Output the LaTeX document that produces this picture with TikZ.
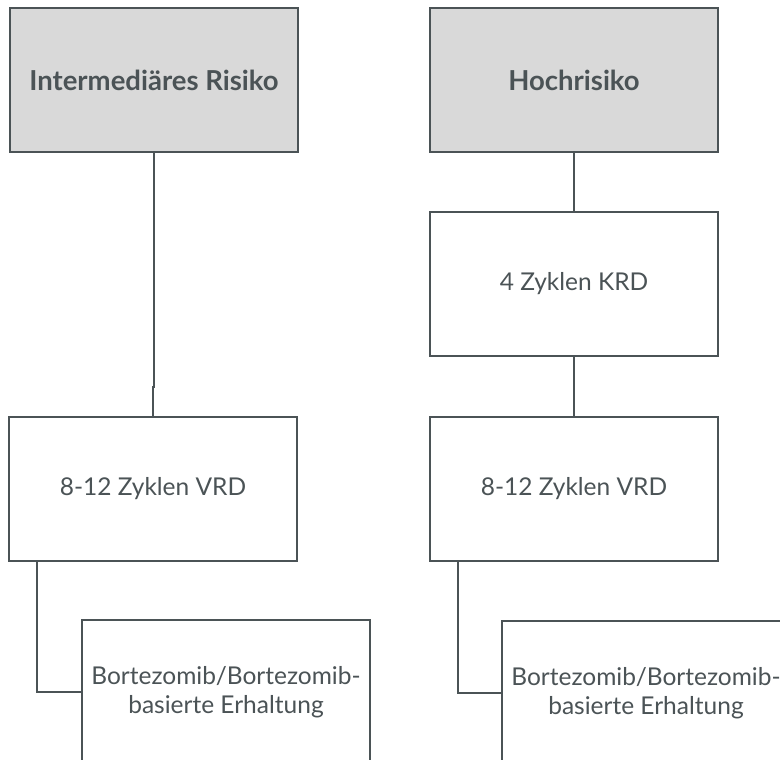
\documentclass[tikz,border=0pt]{standalone}
\usepackage{fontspec}
\setmainfont{Lato}
\definecolor{ink}{HTML}{4B5356}
\definecolor{head}{HTML}{D9D9D9}
\begin{document}
\begin{tikzpicture}[x=1pt,y=-1pt,
  box/.style={draw=ink, line width=2pt, minimum width=288pt, minimum height=144pt,
    inner sep=0pt, text=ink, align=center, font=\fontsize{24.5}{29}\selectfont},
  headbox/.style={box, fill=head, font=\fontsize{27.5}{32}\selectfont\bfseries},
  link/.style={draw=ink, line width=2pt}]
\useasboundingbox (0,0) rectangle (780,760);
\clip (0,0) rectangle (780,760);
\fill[white] (0,0) rectangle (780,760);

% left column
\node[headbox] (ir) at (154,80) {Intermediäres Risiko};
\node[box] (vrdL) at (153,489) {8-12 Zyklen VRD};
\node[box] (mainL) at (226,692) {Bortezomib/Bortezomib-\\basierte Erhaltung};

% right column
\node[headbox] (hr) at (574,80) {Hochrisiko};
\node[box] (krd) at (574,284) {4 Zyklen KRD};
\node[box] (vrdR) at (574,489) {8-12 Zyklen VRD};
\node[box] (mainR) at (646,693) {Bortezomib/Bortezomib-\\basierte Erhaltung};

% connectors
\path[link] (ir.south) -- ++(0,234) -| (vrdL.north);
\path[link] (hr.south) -- (krd.north);
\path[link] (krd.south) -- (vrdR.north);
\path[link] (vrdL.south west) ++(29,0) |- (mainL.west);
\path[link] (vrdR.south west) ++(29,0) |- (mainR.west);
\end{tikzpicture}
\end{document}
